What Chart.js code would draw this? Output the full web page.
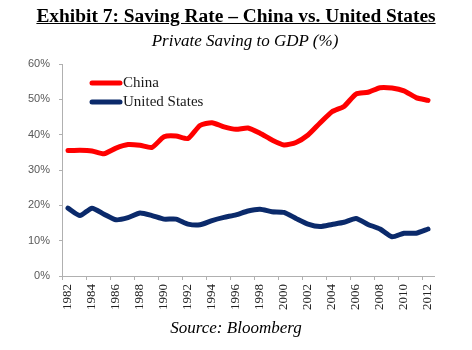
<!DOCTYPE html>
<html>
<head>
<meta charset="utf-8">
<script src="https://cdn.jsdelivr.net/npm/chart.js@4/dist/chart.umd.min.js"></script>
<style>
  html, body { margin: 0; padding: 0; background: #fff; }
  #wrap { position: relative; width: 472px; height: 350px; }
  #chart { position: absolute; left: 0; top: 0; }
  .txt { position: absolute; left: 0; width: 472px; text-align: center; font-family: "Liberation Serif", serif; color: #000; white-space: nowrap; }
  #title { top: 5px; font-size: 19.4px; font-weight: bold; text-decoration: underline; }
  #sub { top: 31px; font-size: 17px; font-style: italic; left: 9px; }
  #src { top: 318px; font-size: 17px; font-style: italic; }
</style>
</head>
<body>
<div id="wrap">
  <canvas id="chart" width="472" height="350"></canvas>
  <div class="txt" id="title">Exhibit 7: Saving Rate – China vs. United States</div>
  <div class="txt" id="sub">Private Saving to GDP (%)</div>
  <div class="txt" id="src">Source: Bloomberg</div>
</div>
<script>
// years on the x axis
var years = ['1982','1983','1984','1985','1986','1987','1988','1989','1990','1991',
             '1992','1993','1994','1995','1996','1997','1998','1999','2000','2001',
             '2002','2003','2004','2005','2006','2007','2008','2009','2010','2011','2012'];

// private saving to GDP, %
var china = [35.5, 35.6, 35.4, 34.6, 36.2, 37.2, 37.0, 36.4, 39.4, 39.6,
             38.9, 42.6, 43.4, 42.2, 41.5, 41.9, 40.4, 38.5, 37.1, 37.8,
             39.9, 43.3, 46.5, 48.0, 51.5, 52.0, 53.3, 53.2, 52.4, 50.5, 49.7];
var usa   = [19.2, 17.1, 19.2, 17.5, 15.9, 16.5, 17.8, 17.1, 16.1, 16.1,
             14.7, 14.5, 15.7, 16.6, 17.3, 18.4, 18.9, 18.2, 18.0, 16.3,
             14.7, 14.0, 14.6, 15.2, 16.3, 14.6, 13.3, 11.1, 12.1, 12.1, 13.3];

var yTicks = [0, 10, 20, 30, 40, 50, 60];

// legend drawn inside the plot, top left
var innerLegend = {
  id: 'innerLegend',
  afterDraw: function(chart) {
    var c = chart.ctx;
    var x0 = 92, rows = [83, 102];
    c.save();
    chart.data.datasets.forEach(function(ds, i) {
      var y = rows[i];
      c.strokeStyle = ds.borderColor;
      c.lineWidth = 5;
      c.lineCap = 'round';
      c.beginPath();
      c.moveTo(x0, y);
      c.lineTo(x0 + 28, y);
      c.stroke();
      c.fillStyle = '#1a1a1a';
      c.font = '15px "Liberation Serif"';
      c.textBaseline = 'middle';
      c.fillText(ds.label, x0 + 31, y);
    });
    c.restore();
  }
};

var ctx = document.getElementById('chart').getContext('2d');
var chart = new Chart(ctx, {
  type: 'line',
  data: {
    labels: years,
    datasets: [{
      label: 'China',
      data: china,
      borderColor: '#ff0000',
      backgroundColor: '#ff0000',
      borderWidth: 5,
      pointRadius: 0,
      tension: 0.2,
      borderCapStyle: 'round',
      borderJoinStyle: 'round'
    }, {
      label: 'United States',
      data: usa,
      borderColor: '#0b2a6b',
      backgroundColor: '#0b2a6b',
      borderWidth: 5,
      pointRadius: 0,
      tension: 0.2,
      borderCapStyle: 'round',
      borderJoinStyle: 'round'
    }]
  },
  options: {
    responsive: false,
    animation: false,
    layout: { padding: { top: 64, right: 38, left: 0, bottom: 0 } },
    plugins: {
      legend: { display: false },
      tooltip: { enabled: false }
    },
    scales: {
      x: {
        offset: true,
        afterFit: function(s) { s.height = 74; },
        grid: {
          offset: true,
          drawOnChartArea: false,
          tickLength: 4,
          tickColor: function(c) { return (c.index !== undefined && c.index % 2 === 0) ? '#b0b0b0' : 'rgba(0,0,0,0)'; }
        },
        border: { color: '#b0b0b0', width: 1 },
        ticks: {
          autoSkip: false,
          maxRotation: 90,
          minRotation: 90,
          padding: 4,
          color: '#222',
          font: { family: '"Liberation Serif"', size: 13 },
          callback: function(v, i) { return i % 2 === 0 ? years[i] : ''; }
        }
      },
      y: {
        min: yTicks[0],
        max: yTicks[yTicks.length - 1],
        afterFit: function(s) { s.width = 62; },
        afterBuildTicks: function(s) { s.ticks = yTicks.map(function(v) { return { value: v }; }); },
        grid: { drawOnChartArea: false, tickLength: 3, color: '#b0b0b0' },
        border: { color: '#b0b0b0', width: 1 },
        ticks: {
          padding: 9,
          color: '#595959',
          font: { family: '"Liberation Sans"', size: 11 },
          callback: function(v) { return v + '%'; }
        }
      }
    }
  },
  plugins: [innerLegend]
});
</script>
</body>
</html>
